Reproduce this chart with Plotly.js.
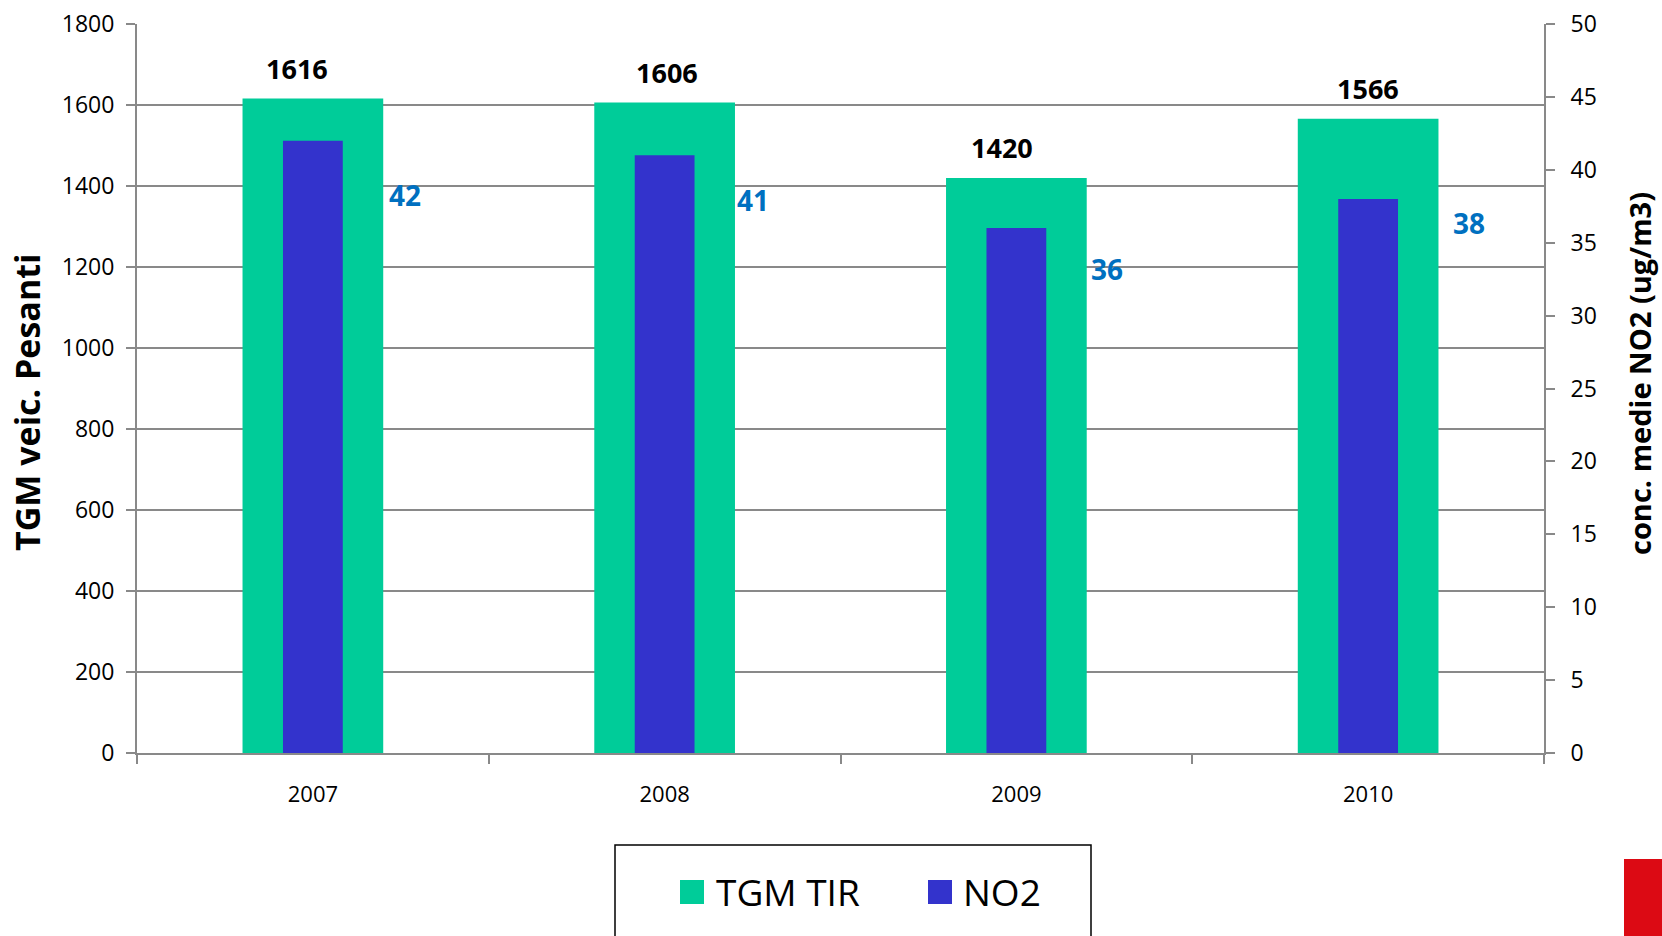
<!DOCTYPE html>
<html>
<head>
<meta charset="utf-8">
<script src="https://cdn.plot.ly/plotly-3.0.1.min.js"></script>
<style>
  html, body { margin: 0; padding: 0; background: #ffffff; }
  #chart { width: 1662px; height: 936px; }
</style>
</head>
<body>
<div id="chart"></div>
<script>
// ---- data ----
const years = ["2007", "2008", "2009", "2010"];
const tgmTir = [1616, 1606, 1420, 1566];
const no2 = [42, 41, 36, 38];
const seriesNames = ["TGM TIR", "NO2"];
const leftTitle = "TGM veic. Pesanti";
const rightTitle = "conc. medie NO2 (ug/m3)";

// ---- style ----
const GREEN = "rgb(0,204,153)";
const BLUE = "rgb(51,51,204)";
const LABEL_BLUE = "#0070C0";
const GRID = "#898989";
const FONT = "Open Sans, Noto Sans, sans-serif";

// plot area in pixels
const L = 137, R = 1544, T = 24, B = 753;
const W = 1662, H = 936;
const pxX = x => (x - L) / (R - L);
const pxY = y => (B - y) / (B - T);

// label nudges (pixels)
const tgmLabelDx = [-16, 2, -14, 0];
const no2LabelDx = [92, 88, 91, 101];
const no2LabelDy = [-55, -46, -42, -25];

const traces = [
  {
    type: "bar", x: years, y: tgmTir, name: seriesNames[0],
    width: 0.4, marker: { color: GREEN }, yaxis: "y",
    showlegend: false, hoverinfo: "skip"
  },
  {
    type: "bar", x: years, y: no2, name: seriesNames[1],
    width: 0.17, marker: { color: BLUE }, yaxis: "y2",
    showlegend: false, hoverinfo: "skip"
  }
];

const annotations = [];
years.forEach((yr, i) => {
  // category index i on the category axis
  annotations.push({
    xref: "x", yref: "y", x: i, y: tgmTir[i], text: String(tgmTir[i]),
    showarrow: false, xanchor: "center", yanchor: "middle",
    xshift: tgmLabelDx[i], yshift: 30,
    font: { family: FONT, size: 27, color: "#000000", weight: 700 }
  });
  annotations.push({
    xref: "x", yref: "y2", x: i, y: no2[i], text: String(no2[i]),
    showarrow: false, xanchor: "center", yanchor: "middle",
    xshift: no2LabelDx[i], yshift: no2LabelDy[i] + 1,
    font: { family: FONT, size: 28, color: LABEL_BLUE, weight: 700 }
  });
});

// axis titles
annotations.push({
  xref: "paper", yref: "paper", x: pxX(27), y: pxY(403), text: leftTitle,
  textangle: -90, showarrow: false, xanchor: "center", yanchor: "middle",
  font: { family: FONT, size: 34, color: "#000000", weight: 700 }
});
annotations.push({
  xref: "paper", yref: "paper", x: pxX(1639), y: pxY(374), text: rightTitle,
  textangle: -90, showarrow: false, xanchor: "center", yanchor: "middle",
  font: { family: FONT, size: 29, color: "#000000", weight: 700 }
});

// legend (manual, large swatches)
const legendItems = [
  { name: seriesNames[0], color: GREEN, sx: 680, tx: 714 },
  { name: seriesNames[1], color: BLUE, sx: 928, tx: 961 }
];
const shapes = [];
shapes.push({
  type: "rect", xref: "paper", yref: "paper",
  x0: pxX(615), x1: pxX(1091), y0: pxY(845), y1: pxY(960),
  line: { color: "#000000", width: 1.5 }, fillcolor: "rgba(0,0,0,0)"
});
legendItems.forEach(it => {
  shapes.push({
    type: "rect", xref: "paper", yref: "paper",
    x0: pxX(it.sx), x1: pxX(it.sx + 24), y0: pxY(880), y1: pxY(904),
    line: { width: 0 }, fillcolor: it.color
  });
  annotations.push({
    xref: "paper", yref: "paper", x: pxX(it.tx), y: pxY(891), text: it.name,
    showarrow: false, xanchor: "left", yanchor: "middle",
    font: { family: FONT, size: 37, color: "#000000" }
  });
});
// red block bottom-right
shapes.push({
  type: "rect", xref: "paper", yref: "paper",
  x0: pxX(1624), x1: pxX(1700), y0: pxY(859), y1: pxY(960),
  line: { width: 0 }, fillcolor: "#DC0A14"
});

const layout = {
  width: W, height: H,
  margin: { l: L, r: W - R, t: T, b: H - B, pad: 0 },
  paper_bgcolor: "#ffffff", plot_bgcolor: "#ffffff",
  barmode: "overlay",
  showlegend: false,
  font: { family: FONT, size: 23, color: "#000000" },
  xaxis: {
    type: "category", range: [-0.5, 3.5],
    showline: true, linecolor: GRID, linewidth: 2,
    ticks: "outside", tickson: "boundaries", ticklen: 9, tickwidth: 2, tickcolor: GRID,
    showgrid: false, zeroline: false,
    tickfont: { family: FONT, size: 22, color: "#000000" },
    ticklabelstandoff: 21
  },
  yaxis: {
    range: [0, 1800], dtick: 200, tick0: 0,
    showline: true, linecolor: GRID, linewidth: 2,
    ticks: "outside", ticklen: 9, tickwidth: 2, tickcolor: GRID,
    showgrid: true, gridcolor: GRID, gridwidth: 2, zeroline: false,
    tickfont: { family: FONT, size: 23, color: "#000000" },
    ticklabelstandoff: 7
  },
  yaxis2: {
    range: [0, 50], dtick: 5, tick0: 0,
    overlaying: "y", side: "right",
    showline: true, linecolor: GRID, linewidth: 2,
    ticks: "outside", ticklen: 9, tickwidth: 2, tickcolor: GRID,
    showgrid: false, zeroline: false,
    tickfont: { family: FONT, size: 23, color: "#000000" },
    ticklabelstandoff: 11
  },
  annotations: annotations,
  shapes: shapes
};

Plotly.newPlot("chart", traces, layout, { displayModeBar: false, staticPlot: true });
</script>
</body>
</html>
